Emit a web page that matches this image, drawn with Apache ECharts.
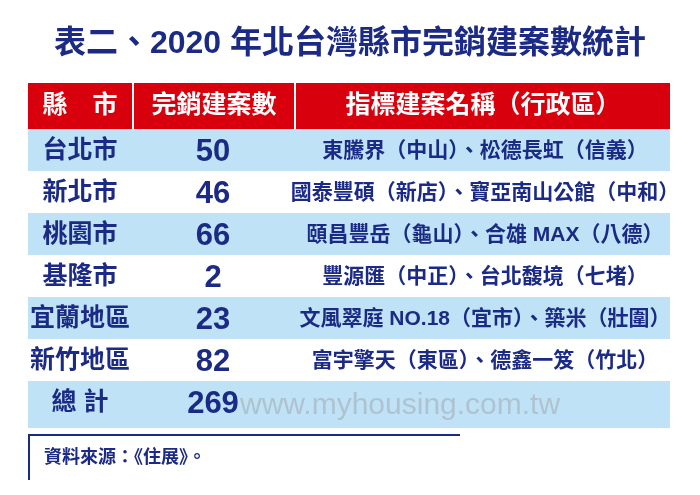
<!DOCTYPE html><html><head><meta charset="utf-8">
<script src="https://cdn.jsdelivr.net/npm/echarts@6/dist/echarts.min.js"></script>
<style>html,body{margin:0;padding:0;background:#fff}#c{width:700px;height:495px}</style></head><body><div id="c"></div>
<script>
const title = '表二、2020 年北台灣縣市完銷建案數統計';
const headers = ['縣　市', '完銷建案數', '指標建案名稱（行政區）'];
const counties = ['台北市','新北市','桃園市','基隆市','宜蘭地區','新竹地區','總 計'];
const counts = [50,46,66,2,23,82,269];
const projects = ['東騰界（中山）、松德長虹（信義）','國泰豐碩（新店）、寶亞南山公館（中和）','頤昌豐岳（龜山）、合雄 MAX（八德）','豐源匯（中正）、台北馥境（七堵）','文風翠庭 NO.18（宜市）、築米（壯圍）','富宇擎天（東區）、德鑫一笈（竹北）',''];
const source = '資料來源：《住展》。';

const navy = '#1b2a84', red = '#d9000d', blue = '#bfe2f6';
const cols = [[28,132],[134,294],[296,670]];
const top0 = 83, hH = 46, rH = 42;
const F = '"Liberation Sans","Noto Sans CJK TC",sans-serif';
const g = [];
g.push({type:'text',left:'center',top:28,style:{text:title,font:'bold 32px '+F,fill:navy}});
headers.forEach((h,i)=>{
  g.push({type:'rect',shape:{x:cols[i][0],y:top0,width:cols[i][1]-cols[i][0],height:hH},style:{fill:red}});
  g.push({type:'text',x:(cols[i][0]+cols[i][1])/2,y:top0+hH/2,style:{text:h,font:'bold 25px '+F,fill:'#fff',align:'center',verticalAlign:'middle'}});
});
counties.forEach((c,r)=>{
  const y = top0+hH+r*rH;
  if (r%2===0) g.push({type:'rect',shape:{x:28,y:y,width:642,height:rH+(r===6?5:0)},style:{fill:blue}});
  g.push({type:'text',x:80,y:y+rH/2+1,style:{text:c,font:'bold 25px '+F,fill:navy,align:'center',verticalAlign:'middle'}});
  g.push({type:'text',x:213,y:y+rH/2+2,style:{text:String(counts[r]),font:'bold 31px '+F,fill:navy,align:'center',verticalAlign:'middle'}});
  g.push({type:'text',x:485,y:y+rH/2+1,style:{text:projects[r],font:'bold 21px '+F,fill:navy,align:'center',verticalAlign:'middle'}});
});
g.push({type:'text',x:240,y:406,style:{text:'www.myhousing.com.tw',font:'30px '+F,fill:'rgba(150,150,150,0.4)',verticalAlign:'middle'}});
g.push({type:'line',shape:{x1:28,y1:435,x2:460,y2:435},style:{stroke:navy,lineWidth:2}});
g.push({type:'line',shape:{x1:29,y1:435,x2:29,y2:480},style:{stroke:navy,lineWidth:2}});
g.push({type:'text',x:44,y:458,style:{text:source,font:'bold 18px '+F,fill:navy,verticalAlign:'middle'}});
const ch = echarts.init(document.getElementById('c'));
ch.setOption({animation:false,graphic:{elements:g}});
</script></body></html>
